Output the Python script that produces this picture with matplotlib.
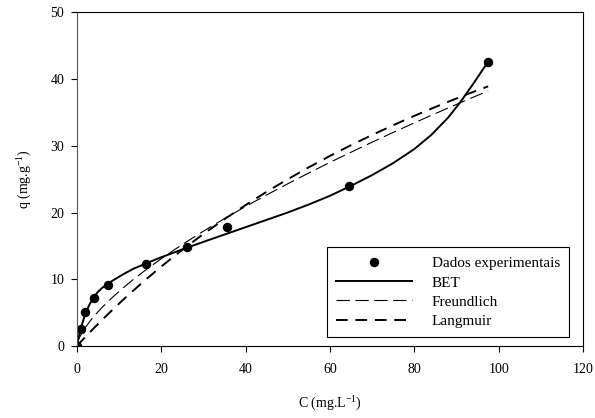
import matplotlib
matplotlib.use("Agg")
from matplotlib import pyplot as plt

plt.rcParams['font.family'] = ['Liberation Serif', 'DejaVu Serif']
plt.rcParams['mathtext.fontset'] = 'custom'
plt.rcParams['mathtext.rm'] = 'Liberation Serif'
plt.rcParams['mathtext.it'] = 'Liberation Serif:italic'

# experimental points
c_exp = [0, 0.95, 1.9, 4.0, 7.4, 16.4, 26.2, 35.5, 64.5, 97.5]
q_exp = [0, 2.6, 5.1, 7.2, 9.1, 12.3, 14.9, 17.9, 23.9, 42.6]

# fitted curves
c_fit = [0, 0.5, 1, 1.5, 2, 3, 4, 5, 6, 7.5, 9, 11, 13.5, 16.5, 20, 23, 26,
         30, 35, 40, 45, 50, 55, 60, 65, 70, 75, 80, 84, 88, 91, 94, 97.5]
q_bet = [0, 1.5, 2.7, 3.8, 4.8, 6.2, 7.3, 8.1, 8.7, 9.4, 10.0, 10.75, 11.6,
         12.4, 13.3, 14.0, 14.7, 15.6, 16.7, 17.8, 18.9, 20.0, 21.2, 22.5,
         24.0, 25.6, 27.4, 29.5, 31.6, 34.2, 36.6, 39.3, 42.6]
q_freund = [0, 1.08, 1.72, 2.26, 2.75, 3.62, 4.40, 5.11, 5.79, 6.73, 7.61,
            8.72, 10.02, 11.48, 13.07, 14.37, 15.61, 17.2, 19.09, 20.90,
            22.63, 24.30, 25.92, 27.50, 29.03, 30.53, 31.99, 33.42, 34.54,
            35.64, 36.46, 37.27, 38.20]
q_lang = [0, 0.34, 0.68, 1.01, 1.34, 2.00, 2.65, 3.28, 3.91, 4.84, 5.75,
          6.94, 8.37, 10.03, 11.89, 13.42, 14.89, 16.78, 19.00, 21.11, 23.10,
          24.98, 26.77, 28.47, 30.08, 31.61, 33.07, 34.47, 35.54, 36.57,
          37.33, 38.06, 38.89]

fig = plt.figure(figsize=(5.95, 4.18), dpi=100)
ax = fig.add_axes([0.129, 0.172, 0.851, 0.799])

ax.plot(c_exp, q_exp, 'o', color='black', markersize=5.8, label='Dados experimentais')
ax.plot(c_fit, q_bet, '-', color='black', linewidth=1.4, label='BET')
ax.plot(c_fit, q_freund, color='black', linewidth=0.8, dashes=(12, 5), label='Freundlich')
ax.plot(c_fit, q_lang, color='black', linewidth=1.4, dashes=(6, 4), label='Langmuir')

ax.set_xlim(0, 120)
ax.set_ylim(0, 50)
ax.set_xticks(range(0, 121, 20))
ax.set_yticks(range(0, 51, 10))
ax.tick_params(direction='out', length=4, width=0.8, labelsize=10)
ax.tick_params(axis='x', pad=8)
ax.tick_params(axis='y', pad=5)
ax.set_xlabel('C (mg.L$^{-1}$)', fontsize=10, labelpad=14)
ax.set_ylabel('q (mg.g$^{-1}$)', fontsize=10, labelpad=12)
for s in ax.spines.values():
    s.set_linewidth(0.8)
ax.spines['left'].set_color('#555555')

leg = ax.legend(loc='lower right', bbox_to_anchor=(0.972, 0.027), borderaxespad=0,
                fontsize=11, handlelength=5.0, frameon=True, fancybox=False,
                edgecolor='black', framealpha=1, borderpad=0.6, labelspacing=0.36,
                handletextpad=1.25)
leg.get_frame().set_linewidth(0.8)

fig.savefig("out.png", dpi=100)
